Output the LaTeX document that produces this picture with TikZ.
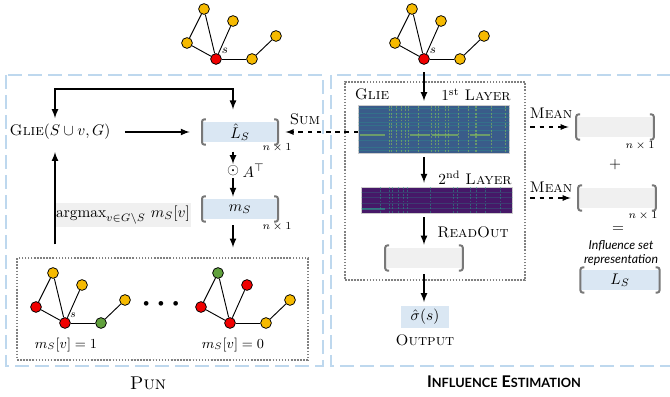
\documentclass[tikz,border=0pt]{standalone}
\usepackage{fontspec}
\usepackage{amsmath,amssymb}
\usepackage{tikz}
\usetikzlibrary{positioning}
\usetikzlibrary{arrows,shapes}
\newfontfamily\latofont{Lato}

\definecolor{gyellow}{RGB}{246,186,0}
\definecolor{ggreen}{RGB}{96,160,60}
\definecolor{gred}{RGB}{240,0,0}
\definecolor{boxblue}{RGB}{218,231,243}
\definecolor{boxgrey}{RGB}{240,240,240}
\definecolor{panelblue}{RGB}{190,216,238}
\definecolor{brkgrey}{RGB}{120,120,120}
\definecolor{heatblue}{RGB}{58,92,138}
\definecolor{heatpurple}{RGB}{70,24,104}
\definecolor{vteal}{RGB}{40,160,140}
\definecolor{vgreen}{RGB}{150,210,80}

\tikzstyle{gnode}=[circle,draw=black,line width=0.5pt,minimum size=7pt,inner sep=0pt]
\tikzstyle{gedge}=[draw,line width=0.6pt]
\tikzstyle{arr}=[draw,line width=1pt,-latex]
\tikzstyle{darr}=[draw,line width=0.8pt,dashed,-latex]
\tikzstyle{panel}=[draw=panelblue,line width=1.2pt,dash pattern=on 9pt off 4pt]
\tikzstyle{dotbox}=[draw=gray,line width=1pt,dash pattern=on 1pt off 1pt,inner sep=0pt]
\tikzstyle{vecbox}=[fill=boxblue,minimum width=49pt,minimum height=13pt,inner sep=0pt]
\tikzstyle{emptybox}=[fill=boxgrey,minimum width=50pt,minimum height=13pt,inner sep=0pt]
\tikzstyle{heatmap}=[draw=gray!40,line width=0.4pt,minimum width=98pt,inner sep=0pt]
\tikzstyle{brk}=[draw=brkgrey,line width=1.3pt,rounded corners=1.5pt]
\tikzstyle{sizelbl}=[font=\scriptsize]
\tikzstyle{heatline}=[line width=0.5pt,dash pattern=on 1.2pt off 1pt,opacity=0.5]

% grey brackets round a vector box
\newcommand{\brackets}[1]{%
  \draw[brk] ([xshift=2.5pt,yshift=1.5pt]#1.north west) -- ([yshift=1.5pt]#1.north west) -- ([yshift=-1.5pt]#1.south west) -- ([xshift=2.5pt,yshift=-1.5pt]#1.south west);
  \draw[brk] ([xshift=-2.5pt,yshift=1.5pt]#1.north east) -- ([yshift=1.5pt]#1.north east) -- ([yshift=-1.5pt]#1.south east) -- ([xshift=-2.5pt,yshift=-1.5pt]#1.south east);}

% small graph round a seed s: prefix, position, colours of a..e
\newcommand{\seedgraph}[7]{%
  \begin{scope}[shift={#2}]
    \foreach \pos/\name/\col in {{(-12,-50)/a/#3}, {(-29,-16)/b/#4}, {(17,-38)/c/#5}, {(36,0)/d/#6}, {(60,-23)/e/#7}}
      \node[gnode,fill=\col] (#1\name) at \pos {};
    \node[gnode,fill=gred] (#1s) at (0,0) {};
    \foreach \src/\dst in {a/b, a/s, b/s, c/s, s/d, d/e}
      \draw[gedge] (#1\src) -- (#1\dst);
  \end{scope}}

\begin{document}
\begin{tikzpicture}[x=0.65pt,y=-0.65pt]
  \useasboundingbox (0,0) rectangle (670,397);
  \clip (0,0) rectangle (670,397);

  % the two panels
  \draw[panel] (6,75) rectangle (323,366);
  \draw[panel] (331,75) rectangle (700,366);

  % Pun
  \seedgraph{t}{(216,59)}{gyellow}{gyellow}{gyellow}{gyellow}{gyellow}
  \node[font=\footnotesize,anchor=south west,inner sep=1pt] (tsl) at (ts.north east) {$s$};

  \node (glie) at (60,132) {\textsc{Glie}$(S\cup v,G)$};
  \node[vecbox] (lhat) at (240,132) {$\hat{L}_S$};
  \node[sizelbl] (n1) at (277,148) {$n\times 1$};
  \node[inner sep=1pt] (od) at (233,171) {$\odot$};
  \node[right=0pt of od,inner sep=1pt] (at) {$A^{\top}$};
  \node[vecbox] (ms) at (240,209) {$m_S$};
  \node[sizelbl] (n2) at (277,227) {$n\times 1$};
  \node[fill=boxgrey,minimum width=83pt,minimum height=16pt,inner sep=1pt] (amax) at (123,215) {$\mathrm{argmax}_{v\in G\setminus S}\ m_S[v]$};
  \node[dotbox,minimum width=189pt,minimum height=66pt] (cand) at (162.5,309) {};
  \coordinate (loopl) at (55,89);
  \coordinate (loopr) at (233,89);

  \seedgraph{p}{(65,323)}{gyellow}{gred}{gyellow}{ggreen}{gyellow}
  \node[font=\scriptsize,anchor=south west,inner sep=0.5pt] (psl) at (ps.north east) {$s$};
  \seedgraph{q}{(230,323)}{ggreen}{gred}{gred}{gyellow}{gyellow}
  \node[font=\scriptsize] (dots) at (161,304) {$\bullet\;\,\bullet\;\,\bullet$};
  \node[font=\small] (mv1) at (66,345) {$m_S[v]=1$};
  \node[font=\small] (mv0) at (233,345) {$m_S[v]=0$};
  \node[font=\large] (pun) at (148,383) {\textsc{Pun}};

  \draw[arr,shorten <=6pt,shorten >=8pt] (glie) -- (lhat);
  \draw[arr,latex-latex,shorten <=0.5pt,shorten >=8pt] (glie.north -| loopl) -- (loopl) -- (loopr) -- (lhat.north -| loopr);
  \draw[arr,shorten <=6pt] (lhat.south -| od) -- (od);
  \draw[arr,shorten >=1.3pt] (od) -- (ms.north -| od);
  \draw[arr,shorten <=4pt,shorten >=6.5pt] (ms.south -| od) -- (cand.north -| od);
  \draw[arr,shorten <=8.5pt,shorten >=4.5pt] (cand.north -| loopl) -- (glie.south -| loopl);

  % Influence estimation
  \seedgraph{r}{(424,59)}{gyellow}{gyellow}{gyellow}{gyellow}{gyellow}
  \node[font=\footnotesize,anchor=south west,inner sep=1pt] (rsl) at (rs.north east) {$s$};

  \node[dotbox,minimum width=117pt,minimum height=129pt] (rbox) at (435,181) {};
  \node (gl) at (372,94) {\textsc{Glie}};
  \node (lay1) at (476,95) {1\textsuperscript{st} \textsc{Layer}};
  \node[heatmap,fill=heatblue,minimum height=31pt] (h1) at (434,129) {};
  \node (lay2) at (475,178) {2\textsuperscript{nd} \textsc{Layer}};
  \node[heatmap,fill=heatpurple,minimum height=17pt] (h2) at (437,200) {};
  \node (rdout) at (473,232) {\textsc{ReadOut}};
  \node[emptybox] (emb) at (424,258) {};
  \node[fill=boxblue,minimum width=31pt,minimum height=14pt,inner sep=0pt] (out) at (425,317) {$\hat{\sigma}(s)$};
  \node (outlbl) at (425,340) {\textsc{Output}};

  % heatmap texture
  \begin{scope}
    \clip (h1.south west) rectangle (h1.north east);
    \foreach \yy in {108,113,117,122,125,130,140,147,150}
      \draw[vteal,opacity=0.3,line width=0.6pt] (358,\yy) -- (510,\yy);
    \foreach \xa/\xb in {360/385, 410/430, 432/458, 470/490}
      \draw[vgreen,opacity=0.55,line width=1pt] (\xa,135) -- (\xb,135);
    \foreach \cx in {389,391,396,401,405,408,418,431,435,438,445,448,458,468,475,476,491,505}
      \draw[heatline,draw=vgreen] (\cx,106) -- (\cx,152);
  \end{scope}
  \begin{scope}
    \clip (h2.south west) rectangle (h2.north east);
    \foreach \yy in {192,197,203,208}
      \draw[vteal,opacity=0.25,line width=0.5pt] (360,\yy) -- (513,\yy);
    \draw[vteal,opacity=0.6,line width=0.8pt] (362,209) -- (385,209);
    \foreach \cx in {380,389,392,398,403,407,430,453,457,470,476,485,500}
      \draw[heatline,draw=vteal] (\cx,187) -- (\cx,213);
  \end{scope}

  \node (sumlbl) at (305,119) {\textsc{Sum}};
  \node (mean1) at (551,113) {\textsc{Mean}};
  \node[emptybox] (mb1) at (615,127) {};
  \node[sizelbl] (n3) at (640,146) {$n\times 1$};
  \node (plus) at (615,165) {$+$};
  \node (mean2) at (551,187) {\textsc{Mean}};
  \node[emptybox] (mb2) at (617,198) {};
  \node[sizelbl] (n4) at (643,216) {$n\times 1$};
  \node (eq) at (618,230) {$=$};
  \node[font=\latofont\itshape\footnotesize,align=center,inner sep=0pt] (inflbl) at (621,253) {Influence set\\representation};
  \node[vecbox,minimum width=51pt] (ls) at (620,280) {$L_S$};
  \node[font=\latofont\bfseries] (ielbl) at (504,382) {\fontsize{10.5}{12}\selectfont I{\fontsize{8.3}{10}\selectfont NFLUENCE} E{\fontsize{8.3}{10}\selectfont STIMATION}};

  \draw[arr,shorten <=5pt,shorten >=2.5pt] (rs) -- (h1.north -| rs);
  \draw[arr,shorten <=2.5pt,shorten >=2.5pt] (h1.south -| rs) -- (h2.north -| rs);
  \draw[arr,shorten <=2.5pt,shorten >=2pt] (h2.south -| rs) -- (emb.north -| rs);
  \draw[arr,shorten <=4pt,shorten >=2.5pt] (emb.south -| rs) -- (out.north -| rs);
  \draw[darr,shorten >=5pt] (h1.west |- lhat) -- (lhat.east);
  \draw[darr,shorten <=3pt,shorten >=5pt] (rbox.east |- mb1) -- (mb1.west);
  \draw[darr,shorten <=3pt,shorten >=5pt] (rbox.east |- mb2) -- (mb2.west);

  \brackets{lhat}
  \brackets{ms}
  \brackets{emb}
  \brackets{mb1}
  \brackets{mb2}
  \brackets{ls}
\end{tikzpicture}
\end{document}
